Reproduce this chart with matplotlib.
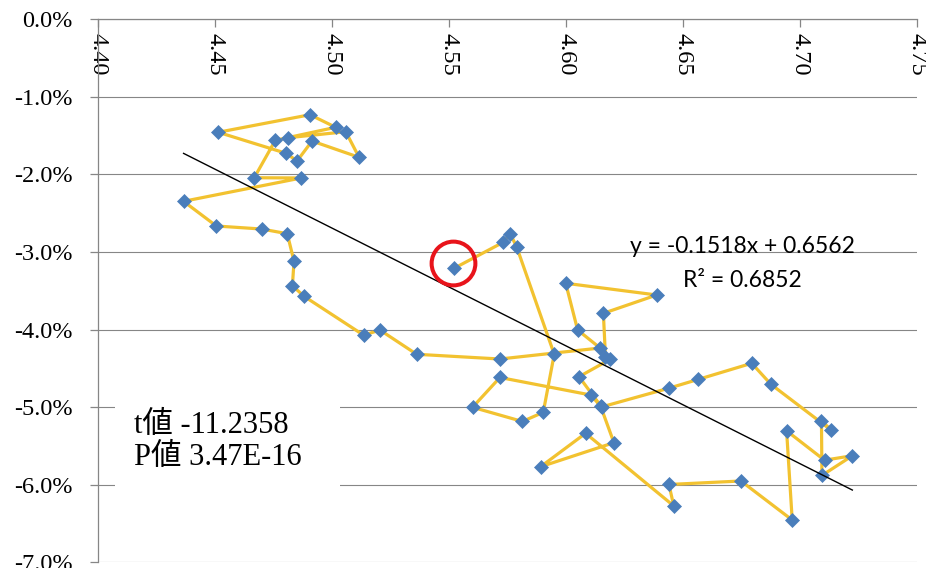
import matplotlib
matplotlib.use("Agg")
import matplotlib.pyplot as plt
from matplotlib.ticker import FuncFormatter, FixedLocator
from matplotlib.patches import Rectangle
from matplotlib.transforms import offset_copy

# Path of observations (x: log level, y: rate in percent), in time order
x_vals = [4.4815, 4.5060, 4.5117, 4.4916, 4.4852, 4.4805, 4.4515, 4.4907, 4.5017, 4.4759,
          4.4669, 4.4870, 4.4367, 4.4507, 4.4701, 4.4810, 4.4839, 4.4832, 4.4882, 4.5137,
          4.5206, 4.5363, 4.5719, 4.6147, 4.6051, 4.6000, 4.6389, 4.6161, 4.6170, 4.6189,
          4.6057, 4.6153, 4.6441, 4.6567, 4.6795, 4.6877, 4.7134, 4.7093, 4.7095, 4.7225,
          4.7106, 4.6944, 4.6968, 4.6749, 4.6441, 4.6462, 4.6085, 4.5893, 4.6206, 4.6149,
          4.6107, 4.5719, 4.5602, 4.5815, 4.5904, 4.5951, 4.5791, 4.5763, 4.5733, 4.5523]
y_pct = [-1.527, -1.450, -1.780, -1.570, -1.827, -1.728, -1.457, -1.231, -1.393, -1.561,
         -2.043, -2.046, -2.347, -2.665, -2.704, -2.764, -3.120, -3.434, -3.571, -4.073,
         -4.005, -4.318, -4.379, -4.237, -4.005, -3.403, -3.554, -3.790, -4.353, -4.385,
         -4.607, -4.997, -4.755, -4.641, -4.434, -4.705, -5.294, -5.174, -5.880, -5.625,
         -5.683, -5.304, -6.454, -5.951, -5.996, -6.273, -5.336, -5.767, -5.457, -4.985,
         -4.843, -4.617, -5.001, -5.184, -5.066, -4.318, -2.939, -2.764, -2.875, -3.210]
y_vals = [v / 100 for v in y_pct]

# Linear trend and test statistics
slope = -0.1518
intercept = 0.6562
r_squared = 0.6852
t_value = "-11.2358"
p_value = "3.47E-16"

x_ticks = [4.40, 4.45, 4.50, 4.55, 4.60, 4.65, 4.70, 4.75]
y_ticks = [0.0, -0.01, -0.02, -0.03, -0.04, -0.05, -0.06, -0.07]

W, H = 926, 568
fig = plt.figure(figsize=(W / 100, H / 100), dpi=100)
ax = fig.add_axes([97.7 / W, 1 - 562.4 / H, (916.7 - 97.7) / W, (562.4 - 19.2) / H])
ax.set_xlim(4.40, 4.75)
ax.set_ylim(-0.07, 0.0)

grey = "#868686"
serif = ["Liberation Serif", "DejaVu Serif"]

# value axis: gridlines and percent labels
ax.set_axisbelow(True)
ax.yaxis.set_major_locator(FixedLocator(y_ticks))
ax.yaxis.set_major_formatter(FuncFormatter(lambda v, p: f"{v * 100:.1f}%"))
ax.yaxis.grid(True, color=grey, linewidth=0.8)
ax.xaxis.set_major_locator(FixedLocator(x_ticks))
ax.xaxis.set_major_formatter(FuncFormatter(lambda v, p: f"{v:.2f}"))

# horizontal axis crosses at 0 (top edge), labels run downwards
ax.spines["bottom"].set_position(("data", 0.0))
ax.spines["top"].set_visible(False)
ax.spines["right"].set_visible(False)
for s in ("bottom", "left"):
    ax.spines[s].set_color(grey)
    ax.spines[s].set_linewidth(0.9)

ax.tick_params(axis="x", direction="out", length=6, width=0.9, color=grey,
               labelrotation=-90, labelsize=17.5, pad=4)
ax.tick_params(axis="y", direction="out", length=6, width=0.9, color=grey,
               labelsize=17.5, pad=12)
for lab in ax.get_xticklabels() + ax.get_yticklabels():
    lab.set_family(serif)

# data path
ax.plot(x_vals, y_vals, color="#F2C230", linewidth=2.3, zorder=3,
        marker="D", markersize=7.5, markerfacecolor="#4A7EBB",
        markeredgecolor="#4A7EBB", markeredgewidth=0.5)

# linear trend line over the data range
x0, x1 = min(x_vals), max(x_vals)
ax.plot([x0, x1], [slope * x0 + intercept, slope * x1 + intercept],
        color="black", linewidth=1.0, zorder=4)

# highlight the latest observation
circ_tr = offset_copy(ax.transData, fig=fig, x=-1.5, y=5.6, units="dots")
ax.plot([x_vals[-1]], [y_vals[-1]], marker="o", markersize=31.5,
        markerfacecolor="none", markeredgecolor="#E8141B", markeredgewidth=2.9,
        transform=circ_tr, zorder=5)

# trend equation
fig.text(742 / W, 1 - 253 / H, f"y = {slope:.4f}x + {intercept:.4f}",
         ha="center", va="baseline", fontsize=16.5, family=["Lato", "DejaVu Sans"])
fig.text(742 / W, 1 - 287 / H, f"R² = {r_squared:.4f}",
         ha="center", va="baseline", fontsize=16.5, family=["Lato", "DejaVu Sans"])

# statistics box
ax.add_patch(Rectangle((115 / W, 1 - 500 / H), (340 - 115) / W, (500 - 393) / H,
                       transform=fig.transFigure, facecolor="white",
                       edgecolor="none", zorder=1.5))
box_font = ["Liberation Serif", "Noto Sans CJK JP"]
fig.text(134 / W, 1 - 433 / H, f"t値 {t_value}", ha="left", va="baseline",
         fontsize=22, family=box_font)
fig.text(134 / W, 1 - 465 / H, f"P値 {p_value}", ha="left", va="baseline",
         fontsize=22, family=box_font)

fig.savefig("out.png", dpi=100, facecolor="white")
